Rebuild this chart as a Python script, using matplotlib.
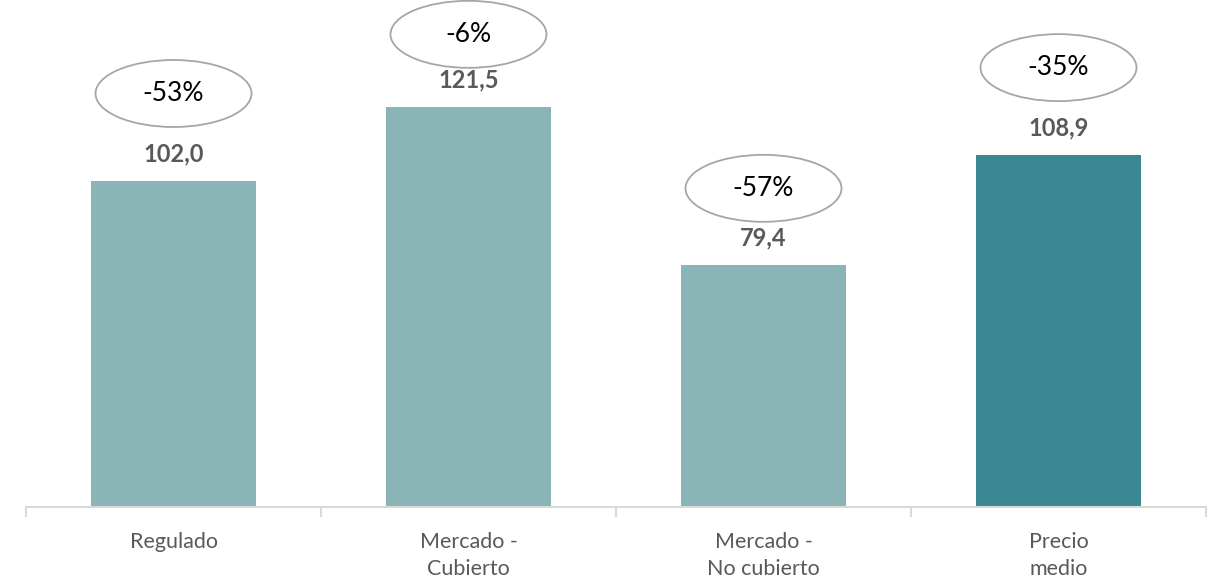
import numpy as np
import matplotlib.pyplot as plt
from matplotlib.patches import Ellipse

# datos
categorias = ["Regulado", "Mercado -\nCubierto", "Mercado -\nNo cubierto", "Precio\nmedio"]
valores = [102.0, 121.5, 79.4, 108.9]
variaciones = ["-53%", "-6%", "-57%", "-35%"]
colores = ["#8AB5B6", "#8AB5B6", "#8AB5B6", "#3A8891"]

# distancia (px) entre la barra y el centro de cada elipse
desfase_px = [87, 73, 77, 87]

plt.rcParams['font.family'] = ['Lato', 'DejaVu Sans']

fig = plt.figure(figsize=(12.08, 5.8), dpi=100)
ax = fig.add_axes([26 / 1208, 73 / 580, 1180 / 1208, 507 / 580])

x = np.arange(len(valores))
ax.bar(x, valores, width=0.556, color=colores, bottom=0)

ymin, ymax = 15, 150.1
ax.set_ylim(ymin, ymax)
ax.set_xlim(-0.5, len(valores) - 0.5)

px_y = 507 / (ymax - ymin)  # pixeles por unidad
for xi, v, var, d in zip(x, valores, variaciones, desfase_px):
    ax.text(xi, v + 27 / px_y, f"{v:.1f}".replace(".", ","), ha="center", va="center",
            fontsize=17, fontweight="bold", color="#595959")
    cy = v + d / px_y
    ax.add_patch(Ellipse((xi, cy), 156 / 295, 67 / px_y, facecolor="white",
                         edgecolor="#A6A6A6", linewidth=1.3, clip_on=False))
    ax.text(xi, cy, var, ha="center", va="center", fontsize=19, color="black")

# ejes
for s in ["top", "right", "left"]:
    ax.spines[s].set_visible(False)
ax.spines["bottom"].set_color("#D9D9D9")
ax.spines["bottom"].set_linewidth(1.5)
ax.set_yticks([])
ax.set_xticks(x)
ax.set_xticklabels(categorias, fontsize=15.5, color="#595959", linespacing=1.45)
ax.tick_params(axis="x", which="major", length=0, pad=18)
ax.set_xticks(np.arange(-0.5, len(valores)), minor=True)
ax.tick_params(axis="x", which="minor", length=7, width=1.5, color="#D9D9D9")

plt.savefig("out.png", dpi=100)
